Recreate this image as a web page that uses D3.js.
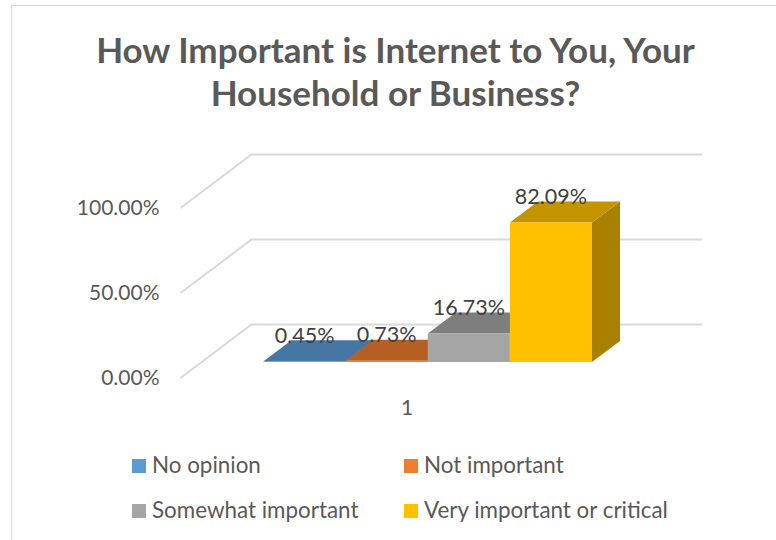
<!DOCTYPE html>
<html>
<head>
<meta charset="utf-8">
<script src="https://cdn.jsdelivr.net/npm/d3@7/dist/d3.min.js"></script>
<style>
  html, body { margin: 0; padding: 0; background: #fff; }
  svg { display: block; }
  text { font-family: Lato, "Open Sans", sans-serif; }
</style>
</head>
<body>
<svg id="chart" width="776" height="540"></svg>
<script>
const titleLines = ["How Important is Internet to You, Your", "Household or Business?"];
const seriesNames = ["No opinion", "Not important", "Somewhat important", "Very important or critical"];
const seriesValues = [0.45, 0.73, 16.73, 82.09];
const seriesLabels = ["0.45%", "0.73%", "16.73%", "82.09%"];
const frontColors = ["#5b9bd5", "#ed7d31", "#a5a5a5", "#ffc000"];
const topColors = ["#4677a4", "#b55f24", "#7e7e7e", "#c39300"];
const sideColors = ["#3e6a92", "#a05420", "#707070", "#a98000"];
const axisTicks = [0, 50, 100];
const categories = ["1"];

const svg = d3.select("#chart");

// Chart frame, open on the right and bottom
svg.append("path")
  .attr("d", "M11.5,540V5.5H776")
  .attr("fill", "none").attr("stroke", "#d9d9d9").attr("stroke-width", 1);

// Title
svg.append("g").selectAll("text").data(titleLines).join("text")
  .attr("x", 395.5).attr("y", (d, i) => 62.5 + i * 43.5)
  .attr("text-anchor", "middle")
  .attr("font-size", 35).attr("font-weight", 700).attr("fill", "#595959")
  .text(d => d);

// Scales on the plane of the bar fronts
const y = d3.scaleLinear().domain([0, 100]).range([362, 192]);
const x = d3.scaleBand().domain(seriesNames).range([263.5, 592]);
const depth = { dx: 28, dy: -21 };       // bar depth
const wallFront = { dx: -83, dy: 16 };   // front edge of the side wall
const wallBack = { dx: -12, dy: -37.5 }; // back edge of the side wall
const gridRight = 702;

// Walls: gridlines run along the side wall and across the back
svg.append("g").attr("fill", "none").attr("stroke", "#d9d9d9").attr("stroke-width", 2)
  .selectAll("path").data(axisTicks).join("path")
  .attr("d", d => d3.line()([
    [x.range()[0] + wallFront.dx, y(d) + wallFront.dy],
    [x.range()[0] + wallBack.dx, y(d) + wallBack.dy],
    [gridRight, y(d) + wallBack.dy]
  ]));

// Value axis labels
svg.append("g").selectAll("text").data(axisTicks).join("text")
  .attr("x", 159.5).attr("y", d => y(d) + wallFront.dy + 7)
  .attr("text-anchor", "end")
  .attr("font-size", 21).attr("fill", "#595959")
  .text(d => d3.format(".2f")(d) + "%");

// Category label
svg.append("g").selectAll("text").data(categories).join("text")
  .attr("x", 407).attr("y", 414.5)
  .attr("text-anchor", "middle")
  .attr("font-size", 21).attr("fill", "#595959")
  .text(d => d);

// Bars: side, top and front faces
const rows = seriesNames.map((name, i) => ({ name, value: seriesValues[i], i }));
const bars = svg.append("g").selectAll("g").data(rows).join("g");
const poly = pts => d3.line()(pts) + "Z";

bars.append("path")
  .attr("fill", d => sideColors[d.i])
  .attr("d", d => {
    const r = x(d.name) + x.bandwidth();
    return poly([[r, y(0)], [r + depth.dx, y(0) + depth.dy], [r + depth.dx, y(d.value) + depth.dy], [r, y(d.value)]]);
  });
bars.append("path")
  .attr("fill", d => topColors[d.i])
  .attr("d", d => {
    const l = x(d.name), r = l + x.bandwidth();
    return poly([[l, y(d.value)], [r, y(d.value)], [r + depth.dx, y(d.value) + depth.dy], [l + depth.dx, y(d.value) + depth.dy]]);
  });
bars.append("rect")
  .attr("fill", d => frontColors[d.i])
  .attr("x", d => x(d.name))
  .attr("y", d => y(d.value))
  .attr("width", x.bandwidth())
  .attr("height", d => y(0) - y(d.value));

// Value labels
svg.append("g").selectAll("text").data(rows).join("text")
  .attr("x", d => x(d.name) + x.bandwidth() / 2)
  .attr("y", d => y(d.value) + depth.dy + 2.5)
  .attr("text-anchor", "middle")
  .attr("font-size", 21.5).attr("fill", "#404040")
  .text(d => seriesLabels[d.i]);

// Legend, two columns by two rows
const legendX = d3.scalePoint().domain([0, 1]).range([132, 404]);
const legendY = d3.scalePoint().domain([0, 1]).range([466, 511]);
const legend = svg.append("g").selectAll("g").data(rows).join("g")
  .attr("transform", d => `translate(${legendX(d.i % 2)},${legendY(Math.floor(d.i / 2))})`);
legend.append("rect")
  .attr("x", 0).attr("y", -7).attr("width", 14).attr("height", 14)
  .attr("fill", d => frontColors[d.i]);
legend.append("text")
  .attr("x", 20).attr("y", 6.5)
  .attr("font-size", 22.4).attr("fill", "#595959")
  .text(d => d.name);
</script>
</body>
</html>
